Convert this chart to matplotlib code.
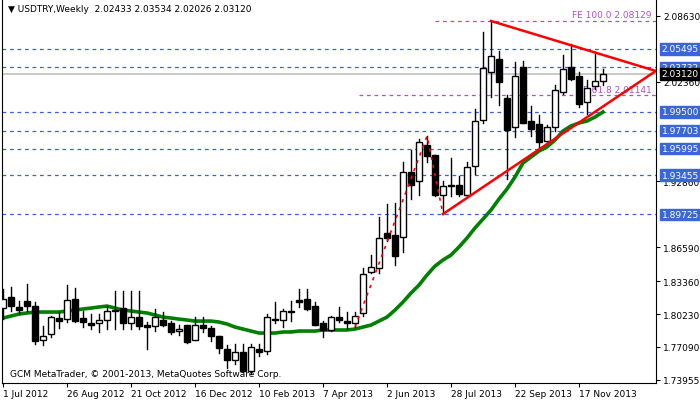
import numpy as np
import matplotlib
matplotlib.use('Agg')
from matplotlib import pyplot as plt
from matplotlib.patches import Rectangle

# weekly OHLC
opens = [1.8080, 1.8185, 1.8090, 1.8147, 1.8099, 1.7775, 1.7832, 1.7985, 1.7975, 1.8166,
         1.7985, 1.7937, 1.7937, 1.7966, 1.8052, 1.8080, 1.7937, 1.7994, 1.7918, 1.7909,
         1.7966, 1.7937, 1.7861, 1.7918, 1.7775, 1.7918, 1.7890, 1.7813, 1.7690, 1.7585,
         1.7661, 1.7480, 1.7690, 1.7671, 1.7966, 1.7966, 1.8052, 1.8156, 1.8166, 1.8099,
         1.7937, 1.7871, 1.7994, 1.7956, 1.7937, 1.8032, 1.8423, 1.8461, 1.8795, 1.8776,
         1.8757, 1.9376, 1.9290, 1.9633, 1.9538, 1.9157, 1.9243, 1.9252, 1.9157, 1.9433,
         1.9871, 2.0329, 2.0452, 2.0081, 1.9805, 2.0377, 1.9862, 1.9834, 1.9671, 1.9805,
         2.0139, 2.0377, 2.0291, 2.0043, 2.0196, 2.02433]
highs = [1.8261, 1.8280, 1.8147, 1.8309, 1.8137, 1.7909, 1.8004, 1.8042, 1.8299, 1.8271,
         1.8052, 1.8023, 1.8023, 1.8099, 1.8242, 1.8242, 1.8242, 1.8242, 1.7947, 1.8071,
         1.8042, 1.7956, 1.7918, 1.7918, 1.7994, 1.7994, 1.7909, 1.7813, 1.7728, 1.7737,
         1.7737, 1.7737, 1.7737, 1.8023, 1.8137, 1.8071, 1.8147, 1.8261, 1.8261, 1.8137,
         1.7956, 1.8004, 1.8090, 1.8042, 1.8042, 1.8461, 1.8585, 1.8947, 1.9071, 1.9080,
         1.9471, 1.9585, 1.9690, 1.9718, 1.9538, 1.9290, 1.9510, 1.9338, 1.9471, 1.9977,
         2.0710, 2.0815, 2.0529, 2.0109, 2.0424, 2.0434, 2.0005, 1.9919, 1.9824, 2.0205,
         2.0491, 2.0596, 2.0329, 2.0253, 2.0519, 2.03534]
lows = [1.7975, 1.8052, 1.8023, 1.8052, 1.7737, 1.7728, 1.7804, 1.7890, 1.7947, 1.7947,
        1.7899, 1.7880, 1.7852, 1.7880, 1.7880, 1.7880, 1.7880, 1.7880, 1.7690, 1.7861,
        1.7909, 1.7832, 1.7823, 1.7747, 1.7775, 1.7852, 1.7766, 1.7651, 1.7509, 1.7547,
        1.7471, 1.7452, 1.7623, 1.7642, 1.7937, 1.7899, 1.7956, 1.8090, 1.8061, 1.7918,
        1.7804, 1.7861, 1.7947, 1.7880, 1.7899, 1.8004, 1.8414, 1.8414, 1.8718, 1.8490,
        1.8614, 1.9118, 1.9157, 1.9471, 1.9147, 1.8976, 1.9147, 1.9147, 1.9147, 1.9357,
        1.9843, 2.0091, 2.0014, 1.9309, 1.9709, 1.9843, 1.9719, 1.9595, 1.9652, 1.9767,
        2.0120, 2.0253, 1.9996, 1.9929, 2.0167, 2.02026]
closes = [1.8166, 1.8099, 1.8061, 1.8099, 1.7766, 1.7813, 1.7994, 1.7956, 1.8156, 1.7956,
          1.7947, 1.7918, 1.7966, 1.8052, 1.8061, 1.7937, 1.7994, 1.7909, 1.7899, 1.7994,
          1.7918, 1.7852, 1.7880, 1.7756, 1.7918, 1.7890, 1.7813, 1.7699, 1.7585, 1.7661,
          1.7480, 1.7709, 1.7661, 1.7994, 1.7975, 1.8052, 1.8042, 1.8137, 1.8071, 1.7918,
          1.7871, 1.7994, 1.7966, 1.7937, 1.8004, 1.8404, 1.8471, 1.8747, 1.8747, 1.8576,
          1.9376, 1.9252, 1.9661, 1.9528, 1.9157, 1.9243, 1.9248, 1.9166, 1.9424, 1.9862,
          2.0367, 2.0481, 2.0233, 1.9776, 2.0291, 1.9843, 1.9786, 1.9662, 1.9805, 2.0158,
          2.0358, 2.0263, 2.0024, 2.0177, 2.0243, 2.03120]
ma = [1.7985, 1.8004, 1.8023, 1.8033, 1.8042, 1.8042, 1.8042, 1.8042, 1.8052, 1.8061,
      1.8071, 1.8080, 1.8090, 1.8099, 1.8080, 1.8061, 1.8052, 1.8042, 1.8033, 1.8014,
      1.7994, 1.7985, 1.7975, 1.7966, 1.7956, 1.7956, 1.7956, 1.7947, 1.7928, 1.7899,
      1.7880, 1.7861, 1.7842, 1.7842, 1.7842, 1.7852, 1.7852, 1.7861, 1.7861, 1.7861,
      1.7871, 1.7871, 1.7871, 1.7871, 1.7880, 1.7899, 1.7918, 1.7956, 1.7994, 1.8061,
      1.8137, 1.8223, 1.8299, 1.8395, 1.8480, 1.8538, 1.8585, 1.8662, 1.8747, 1.8843,
      1.8928, 1.9014, 1.9119, 1.9214, 1.9329, 1.9462, 1.9519, 1.9576, 1.9615, 1.9681,
      1.9767, 1.9815, 1.9843, 1.9862, 1.9900, 1.9948]

levels = [2.05495, 2.03732, 1.99500, 1.97703, 1.95995, 1.93455, 1.89725]
axis_ticks = [2.08630, 2.02360, 1.92860, 1.86590, 1.83360, 1.80230, 1.77090, 1.73955]
last_price = 2.03120
fe100, fe618 = 2.08129, 2.01141

date_labels = ['1 Jul 2012', '26 Aug 2012', '21 Oct 2012', '16 Dec 2012', '10 Feb 2013',
               '7 Apr 2013', '2 Jun 2013', '28 Jul 2013', '22 Sep 2013', '17 Nov 2013']
date_idx = [0, 8, 16, 24, 32, 40, 48, 56, 64, 72]

# zigzag and triangle (bar index, price)
zz_x, zz_y = [44, 53, 55], [1.7899, 1.9718, 1.8976]
apex_x, apex_y = 81.6, 2.0339
tri_low = (55, 1.8976)
tri_high = (61, 2.0815)

plt.rcParams['font.family'] = ['DejaVu Sans']
fig = plt.figure(figsize=(7, 4.02), dpi=100)
ax = fig.add_axes([2/700, 18/402, 654/700, 383/402])
x0, x1 = -0.125, 81.625
ax.set_xlim(x0, x1)
ax.set_ylim(1.7366, 2.1015)

for lv in levels:
    ax.axhline(lv, color='#3a5fe0', lw=0.9, ls=(0, (3, 3)), zorder=1)
ax.axhline(last_price, color='#c0c0c0', lw=1.2, zorder=1)
ax.plot([54, x1], [fe100, fe100], color='#b050d0', lw=0.9, ls=(0, (3, 3)), zorder=1)
ax.plot([44.5, x1], [fe618, fe618], color='#b050d0', lw=0.9, ls=(0, (3, 3)), zorder=1)
ax.text(81.1, fe100 + 0.002, 'FE 100.0 2.08129', color='#b050d0', fontsize=6.5, ha='right', va='bottom')
ax.text(81.1, fe618 + 0.001, 'FE 61.8 2.01141', color='#b050d0', fontsize=6.5, ha='right', va='bottom')

ax.plot(range(len(ma)), ma, color='#008000', lw=2.6, zorder=2)

w = 0.35
for i in range(len(opens)):
    o, h, l, c = opens[i], highs[i], lows[i], closes[i]
    ax.plot([i, i], [l, h], color='black', lw=1, zorder=3)
    lo, hi = min(o, c), max(o, c)
    face = 'white' if c >= o else 'black'
    ax.add_patch(Rectangle((i - w, lo), 2 * w, max(hi - lo, 0.0004), facecolor=face,
                           edgecolor='black', lw=1, zorder=4))

ax.plot(zz_x, zz_y, color='red', lw=1.2, ls=(0, (2, 3)), zorder=5)
ax.plot([tri_low[0], apex_x], [tri_low[1], apex_y], color='red', lw=1.8, zorder=5)
ax.plot([tri_high[0], apex_x], [tri_high[1], apex_y], color='red', lw=1.8, zorder=5)

ax.set_xticks(date_idx)
ax.set_xticklabels(date_labels, fontsize=6.5, ha='left')
ax.tick_params(axis='x', length=3, pad=1)
ax.yaxis.tick_right()
ax.set_yticks(axis_ticks)
ax.set_yticklabels([f'{v:.5f}' for v in axis_ticks], fontsize=6.5)
ax.tick_params(axis='y', length=3, pad=2)
for s in ['top']:
    ax.spines[s].set_visible(False)

# price boxes on the right
for lv in levels + [last_price]:
    col = 'black' if lv == last_price else '#3a66d8'
    ax.annotate(f'{lv:.5f}', xy=(1, lv), xycoords=('axes fraction', 'data'),
                xytext=(4, 0), textcoords='offset points', fontsize=6.5, color='white',
                va='center', ha='left',
                bbox=dict(boxstyle='square,pad=0.15', fc=col, ec=col))

fig.text(8/700, 1 - 10/402, '\u25bc USDTRY,Weekly  2.02433 2.03534 2.02026 2.03120',
         fontsize=6.5, va='center')
ax.text(0.012, 0.012, 'GCM MetaTrader, \u00a9 2001-2013, MetaQuotes Software Corp.',
        transform=ax.transAxes, fontsize=6.5, va='bottom')

fig.savefig('out.png', dpi=100)
